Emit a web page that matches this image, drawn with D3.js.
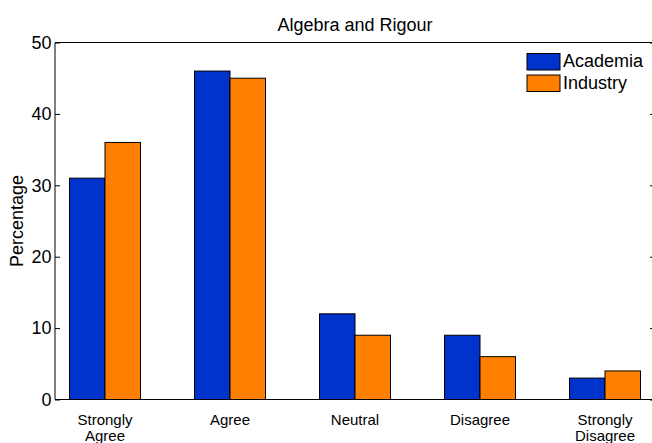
<!DOCTYPE html>
<html>
<head>
<meta charset="utf-8">
<script src="https://cdn.jsdelivr.net/npm/d3@7"></script>
<style>
  html, body { margin: 0; padding: 0; background: #fff; }
  svg { display: block; font-family: "Liberation Sans", Arial, Helvetica, sans-serif; }
</style>
</head>
<body>
<svg id="chart" width="652" height="443"></svg>
<script>
// ---- data ----
const categories = [["Strongly", "Agree"], ["Agree"], ["Neutral"], ["Disagree"], ["Strongly", "Disagree"]];
const seriesNames = ["Academia", "Industry"];
const academia = [31, 46, 12, 9, 3];
const industry = [36, 45, 9, 6, 4];
const yTicks = [0, 10, 20, 30, 40, 50];
const titleText = "Algebra and Rigour";
const yLabelText = "Percentage";
const colors = ["#0033cc", "#ff8000"];

// ---- layout ----
const svg = d3.select("#chart");
const plotL = 55, plotR = 655, plotT = 42.5, plotB = 399.5;

const x = d3.scaleLinear().domain([0.6, 5.4]).range([plotL, plotR]);
const y = d3.scaleLinear().domain([0, 50]).range([plotB, plotT]);
const barW = x(1.284) - x(1);

const series = [academia, industry];

// bars
series.forEach((vals, s) => {
  svg.append("g").selectAll("rect")
    .data(vals)
    .join("rect")
    .attr("x", (d, i) => s === 0 ? x(i + 1) - barW : x(i + 1))
    .attr("y", d => y(d))
    .attr("width", barW)
    .attr("height", d => y(0) - y(d))
    .attr("fill", colors[s])
    .attr("stroke", "#000")
    .attr("stroke-width", 1);
});

// axis box
svg.append("path")
  .attr("d", `M${plotL},${plotB}V${plotT}H${plotR}V${plotB}Z`)
  .attr("fill", "none").attr("stroke", "#000").attr("stroke-width", 1);

// left y axis
const yAxisL = svg.append("g").attr("transform", `translate(${plotL},0)`)
  .call(d3.axisLeft(y).tickValues(yTicks).tickSizeInner(-5).tickSizeOuter(0).tickPadding(3.5));
yAxisL.select(".domain").remove();
yAxisL.selectAll("text").attr("font-size", 18).attr("font-family", "Liberation Sans, Arial, sans-serif").attr("fill", "#000");

// right y ticks
const yAxisR = svg.append("g").attr("transform", `translate(${plotR},0)`)
  .call(d3.axisRight(y).tickValues(yTicks).tickSizeInner(-5).tickSizeOuter(0).tickFormat(""));
yAxisR.select(".domain").remove();

// x category labels
const catG = svg.append("g");
categories.forEach((lines, i) => {
  const t = catG.append("text")
    .attr("x", x(i + 1))
    .attr("y", 425)
    .attr("text-anchor", "middle")
    .attr("font-size", 15)
    .attr("fill", "#000");
  lines.forEach((ln, j) => {
    t.append("tspan").attr("x", x(i + 1)).attr("dy", j === 0 ? 0 : 15.5).text(ln);
  });
});

// title
svg.append("text")
  .attr("x", (plotL + plotR) / 2).attr("y", 31)
  .attr("text-anchor", "middle").attr("font-size", 18).attr("fill", "#000")
  .text(titleText);

// y label
svg.append("text")
  .attr("transform", `translate(23,${(plotT + plotB) / 2}) rotate(-90)`)
  .attr("text-anchor", "middle").attr("font-size", 18).attr("fill", "#000")
  .text(yLabelText);

// legend
const leg = svg.append("g");
seriesNames.forEach((name, i) => {
  const yy = 53.5 + i * 21.5;
  leg.append("rect").attr("x", 527).attr("y", yy).attr("width", 33).attr("height", 16.5)
    .attr("fill", colors[i]).attr("stroke", "#000").attr("stroke-width", 1);
  leg.append("text").attr("x", 563).attr("y", yy + 13.5)
    .attr("font-size", 18).attr("fill", "#000").text(name);
});
</script>
</body>
</html>
